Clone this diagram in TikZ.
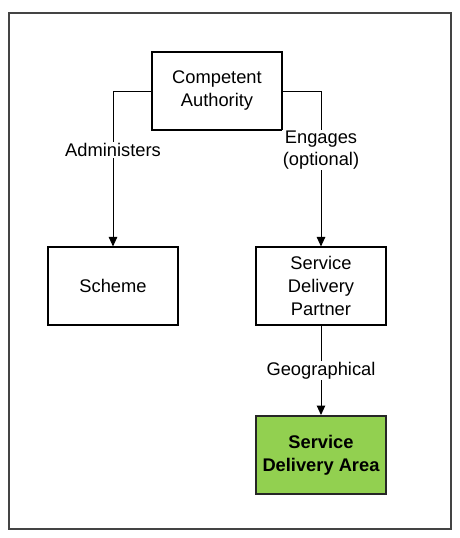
\documentclass[tikz,border=0pt]{standalone}
\usepackage{fontspec}
\setmainfont{Liberation Sans}
\usetikzlibrary{arrows.meta}
\definecolor{areagreen}{HTML}{92D050}
\definecolor{framegray}{HTML}{444444}
\begin{document}
\begin{tikzpicture}[x=1pt,y=-1pt,
  box/.style={draw=black,line width=1.1pt,minimum width=130pt,minimum height=78pt,align=center,inner sep=0pt,fill=white,font=\fontsize{18.3}{23}\selectfont},
  areabox/.style={box,fill=areagreen,line width=2pt,draw=black!85,font=\fontsize{18.3}{23}\selectfont\bfseries},
  conn/.style={line width=1pt,-{Triangle[width=8.5pt,length=9.5pt]}},
  lbl/.style={fill=white,align=center,inner sep=1pt,font=\fontsize{18.3}{22}\selectfont}]
\useasboundingbox (0,0) rectangle (460,538);
\draw[framegray,line width=1.6pt] (9,13) rectangle (451,529);
\node[box] (ca) at (217,91) {Competent\\Authority};
\node[box] (scheme) at (113,286) {Scheme};
\node[box] (sdp) at (321,286) {Service\\Delivery\\Partner};
\node[areabox] (sda) at (321,455) {Service\\Delivery Area};
\draw[conn] (ca.west) -| node[lbl,pos=0.69] {Administers} (scheme.north);
\draw[conn] (ca.east) -| node[lbl,pos=0.69] {Engages\\(optional)} (sdp.north);
\draw[conn] (sdp.south) -- node[lbl,pos=0.5] {Geographical} (sda.north);
\end{tikzpicture}
\end{document}
